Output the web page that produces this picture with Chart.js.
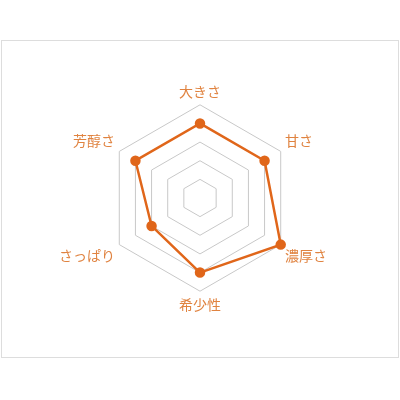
<!DOCTYPE html>
<html lang="ja">
<head>
    <meta charset="UTF-8">
    <title>Radar</title>
    <script src="https://cdn.jsdelivr.net/npm/chart.js"></script>
    <style>
        body {
            margin: 0;
            background: #fff;
            width: 400px;
            height: 400px;
            position: relative;
            overflow: hidden;
        }

        .frame {
            position: absolute;
            left: 1px;
            top: 40px;
            width: 396px;
            height: 316px;
            border: 1px solid #dddddd;
        }

        .chart-box {
            position: absolute;
            left: 0;
            top: 84px;
            width: 400px;
            height: 230px;
        }
    </style>
</head>
<body>
    <div class="frame"></div>
    <div class="chart-box">
        <canvas id="radarChart"></canvas>
    </div>

    <script>
        const labels = ['大きさ', '甘さ', '濃厚さ', '希少性', 'さっぱり', '芳醇さ'];
        const scores = [4, 4, 5, 4, 3, 4];
        const scaleMin = 0;
        const scaleMax = 5;

        const ctx = document.getElementById('radarChart').getContext('2d');
        new Chart(ctx, {
            type: 'radar',
            data: {
                labels: labels,
                datasets: [{
                    label: 'score',
                    data: scores,
                    borderColor: '#e0661a',
                    backgroundColor: 'rgba(0,0,0,0)',
                    borderWidth: 2.5,
                    pointBackgroundColor: '#e0661a',
                    pointBorderColor: '#e0661a',
                    pointRadius: 4,
                    fill: false
                }]
            },
            options: {
                responsive: true,
                maintainAspectRatio: false,
                animation: false,
                layout: { padding: 0 },
                plugins: {
                    legend: { display: false },
                    tooltip: { enabled: false }
                },
                scales: {
                    r: {
                        min: scaleMin,
                        max: scaleMax,
                        ticks: { display: false, stepSize: 1 },
                        angleLines: { display: false },
                        grid: { color: '#c8c8c8', lineWidth: 1 },
                        pointLabels: {
                            color: '#e08340',
                            padding: 5,
                            font: { family: '"Noto Sans CJK JP", sans-serif', size: 14 }
                        }
                    }
                }
            }
        });
    </script>
</body>
</html>
